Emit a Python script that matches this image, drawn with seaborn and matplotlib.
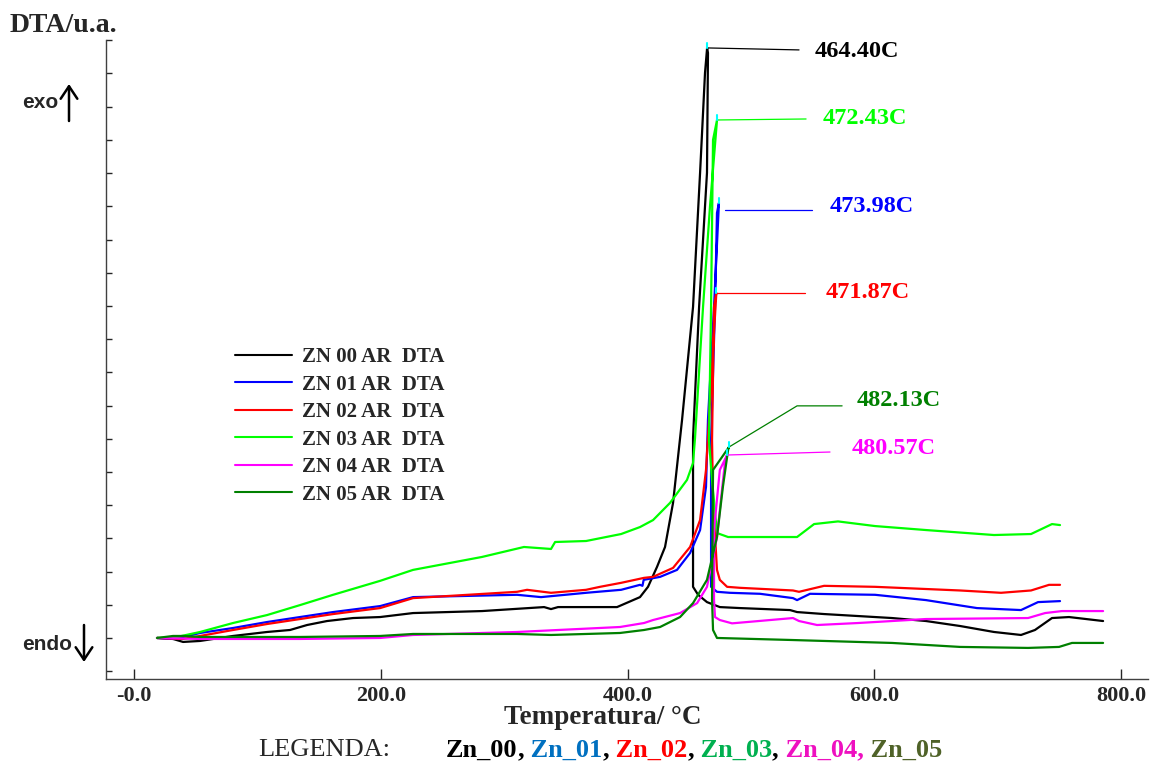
import matplotlib
matplotlib.use("Agg")
import matplotlib.pyplot as plt
from matplotlib.lines import Line2D
from matplotlib.ticker import FixedLocator, MultipleLocator
import pandas as pd
import seaborn as sns

# DTA curves, temperature (°C) vs signal (u.a.)
T00 = [18.6, 31.6, 39.7, 53.5, 80.2, 107.8, 126.4, 140.2, 156.4, 177.5, 199.4, 226.1, 282.0, 332.3, 337.9,
       343.6, 391.4, 410.0, 416.5, 423.8, 430.3, 436.8, 444.1, 453.0, 458.7, 462.7, 464.4, 465.1, 464.3, 457.9,
       453.0, 453.0, 457.1, 464.3, 474.7, 491.1, 531.6, 537.3, 559.2, 614.3, 641.8, 669.4, 696.9, 718.8, 730.1,
       743.9, 757.7, 785.3]
D00 = [0.0, -0.03, -0.12, -0.09, 0.06, 0.18, 0.24, 0.39, 0.51, 0.60, 0.63, 0.75, 0.81, 0.93, 0.87,
       0.93, 0.93, 1.23, 1.54, 2.14, 2.74, 4.07, 6.57, 9.97, 14.01, 17.02, 17.77, 17.62, 14.01, 9.97,
       6.02, 1.54, 1.30, 1.08, 0.93, 0.90, 0.84, 0.78, 0.72, 0.60, 0.51, 0.36, 0.18, 0.09, 0.24,
       0.60, 0.63, 0.51]

T01 = [18.6, 31.6, 39.7, 53.5, 80.2, 107.8, 134.5, 161.3, 199.4, 226.1, 310.4, 329.8, 366.3, 394.7, 410.0,
       412.0, 413.0, 426.3, 440.0, 450.6, 458.7, 463.5, 465.1, 470.0, 473.98, 472.4, 470.8, 467.6, 467.6, 472.4,
       482.8, 507.3, 534.0, 537.3, 547.8, 600.5, 641.8, 683.1, 718.8, 732.6, 750.4]
D01 = [0.0, -0.03, 0.03, 0.15, 0.30, 0.48, 0.63, 0.78, 0.96, 1.23, 1.30, 1.23, 1.36, 1.45, 1.60,
       1.57, 1.75, 1.84, 2.05, 2.56, 3.25, 4.55, 6.57, 9.97, 13.10, 12.80, 9.97, 5.96, 1.54, 1.39,
       1.36, 1.33, 1.20, 1.14, 1.33, 1.30, 1.14, 0.90, 0.84, 1.08, 1.11]

T02 = [18.6, 39.7, 53.5, 80.2, 107.8, 134.5, 161.3, 199.4, 226.1, 310.4, 318.5, 337.9, 366.3, 377.6, 394.7,
       413.3, 420.6, 436.8, 450.6, 458.7, 463.5, 465.9, 471.87, 470.0, 468.4, 469.2, 472.4, 474.7, 480.6, 491.1,
       534.0, 538.9, 559.2, 600.5, 669.4, 702.6, 726.9, 741.5, 750.4]
D02 = [0.0, -0.03, 0.06, 0.24, 0.42, 0.57, 0.72, 0.90, 1.20, 1.39, 1.45, 1.36, 1.45, 1.54, 1.66,
       1.81, 1.84, 2.11, 2.74, 3.55, 5.06, 6.57, 10.39, 9.97, 5.96, 4.16, 2.05, 1.75, 1.54, 1.51,
       1.43, 1.39, 1.57, 1.54, 1.43, 1.36, 1.43, 1.60, 1.60]

T03 = [18.6, 34.8, 53.5, 80.2, 107.8, 134.5, 161.3, 199.4, 226.1, 282.0, 316.0, 337.9, 341.2, 366.3, 394.7,
       410.0, 420.6, 434.4, 448.1, 453.0, 454.6, 461.1, 466.7, 472.43, 469.2, 467.6, 465.9, 468.4, 472.4, 481.4,
       537.3, 551.1, 570.5, 600.5, 641.8, 696.9, 726.9, 743.9, 750.4]
D03 = [0.0, 0.03, 0.18, 0.45, 0.69, 0.99, 1.30, 1.72, 2.05, 2.44, 2.74, 2.68, 2.89, 2.92, 3.13,
       3.34, 3.55, 4.07, 4.76, 5.27, 6.02, 9.97, 12.98, 15.60, 15.00, 9.97, 5.96, 4.76, 3.16, 3.04,
       3.04, 3.43, 3.51, 3.37, 3.25, 3.10, 3.13, 3.43, 3.40]

T04 = [18.6, 53.5, 134.5, 199.4, 226.1, 310.4, 393.8, 413.3, 420.6, 442.5, 456.3, 464.3, 472.4, 478.8, 480.57,
       474.7, 470.0, 470.0, 470.8, 474.7, 484.6, 534.0, 538.9, 553.5, 586.7, 641.8, 724.5, 738.3, 752.0, 785.3]
D04 = [0.0, -0.03, -0.03, 0.0, 0.09, 0.18, 0.33, 0.45, 0.54, 0.75, 1.05, 1.54, 3.04, 5.27, 5.51,
       5.06, 3.25, 1.14, 0.63, 0.54, 0.44, 0.60, 0.51, 0.39, 0.45, 0.57, 0.60, 0.75, 0.81, 0.81]

T05 = [18.6, 31.6, 39.7, 53.5, 134.5, 199.4, 226.1, 310.4, 337.9, 366.3, 393.8, 413.3, 426.3, 442.5, 453.0,
       464.3, 472.4, 477.2, 481.4, 482.13, 469.2, 468.4, 469.2, 472.4, 531.6, 614.3, 669.4, 724.5, 749.6, 760.1,
       785.3]
D05 = [0.0, 0.06, 0.06, 0.03, 0.03, 0.06, 0.12, 0.12, 0.09, 0.12, 0.15, 0.24, 0.33, 0.63, 1.05,
       1.75, 3.04, 4.55, 5.66, 5.75, 5.06, 1.14, 0.24, 0.0, -0.06, -0.15, -0.27, -0.30, -0.27, -0.15,
       -0.15]

names = ["ZN 00 AR  DTA", "ZN 01 AR  DTA", "ZN 02 AR  DTA", "ZN 03 AR  DTA", "ZN 04 AR  DTA", "ZN 05 AR  DTA"]
colors = ["#000000", "#0000FF", "#FF0000", "#00FF00", "#FF00FF", "#008000"]
temps = [T00, T01, T02, T03, T04, T05]
signals = [D00, D01, D02, D03, D04, D05]

# peak temperatures / labels
peak_T = [464.40, 473.98, 471.87, 472.43, 480.57, 482.13]
peak_labels = ["464.40C", "473.98C", "471.87C", "472.43C", "480.57C", "482.13C"]
# leader line paths (from peak) and label anchors
leaders = [
    ([464.4, 538.9], [17.77, 17.71]),
    ([478.9, 549.4], [12.89, 12.89]),
    ([471.87, 543.8], [10.39, 10.39]),
    ([472.43, 544.6], [15.60, 15.63]),
    ([480.57, 564.0], [5.51, 5.60]),
    ([482.13, 537.3, 573.8], [5.75, 6.99, 6.99]),
]
label_pos = [(551.9, 17.65), (564.0, 12.98), (560.8, 10.39), (558.3, 15.63), (581.8, 5.72), (585.9, 7.14)]

legend_words = ["Zn_00", ",", " Zn_01", ",", " Zn_02", ",", " Zn_03", ",", " Zn_04,", " Zn_05"]
legend_colors = ["black", "black", "#0070C0", "black", "#FF0000", "black", "#00B050", "black", "#EE10C0", "#4F6228"]

sns.set_style("white")
plt.rcParams['font.family'] = ['Liberation Serif', 'DejaVu Serif']

frames = []
for name, t, d in zip(names, temps, signals):
    frames.append(pd.DataFrame({"T": t, "DTA": d, "serie": name}))
df = pd.concat(frames, ignore_index=True)

fig = plt.figure(figsize=(11.54, 7.64), dpi=100)
ax = fig.add_axes([0.0919, 0.1113, 0.9029, 0.8364])

sns.lineplot(data=df, x="T", y="DTA", hue="serie", palette=dict(zip(names, colors)),
             sort=False, estimator=None, legend=False, lw=1.6, ax=ax)

# leaders, cyan peak tips and labels
for (lx, ly), (tx, ty), lab, c, pt, d in zip(leaders, label_pos, peak_labels, colors, peak_T, signals):
    ax.plot(lx, ly, color=c, lw=0.9)
    top = max(d)
    ax.plot([pt, pt], [top, top + 0.15], color="cyan", lw=1.5)
    ax.text(tx, ty, lab, color=c, fontsize=17.5, fontweight="bold", va="center", ha="left")

ax.set_xlim(-22.7, 821.7)
ax.set_ylim(-1.235, 18.01)
ax.xaxis.set_major_locator(FixedLocator([0, 200, 400, 600, 800]))
ax.xaxis.set_minor_locator(MultipleLocator(50))
ax.set_xticklabels(["-0.0", "200.0", "400.0", "600.0", "800.0"], fontweight="bold")
ax.yaxis.set_major_locator(MultipleLocator(1))
ax.tick_params(axis="x", which="major", direction="in", length=7, width=1, labelsize=16, pad=5)
ax.tick_params(axis="x", which="minor", direction="in", length=4, width=1)
ax.tick_params(axis="y", which="major", direction="in", length=4, width=1, labelleft=False)
ax.tick_params(bottom=True, left=True)
ax.set_xlabel("")
ax.set_ylabel("")
for s in ["top", "right"]:
    ax.spines[s].set_visible(False)
for s in ["left", "bottom"]:
    ax.spines[s].set_color("#404040")
    ax.spines[s].set_linewidth(1.0)

handles = [Line2D([], [], color=c, lw=1.5) for c in colors]
ax.legend(handles, names, loc="upper left", bbox_to_anchor=(235 / 1154, 1 - 347 / 764),
          bbox_transform=fig.transFigure, frameon=False,
          prop={"family": "Liberation Serif", "weight": "bold", "size": 15},
          handlelength=2.75, handletextpad=0.45, labelspacing=0.36, borderpad=0, borderaxespad=0)

fig.text(10 / 1154, 1 - 25 / 764, "DTA/u.a.", fontsize=20, fontweight="bold", va="center", ha="left")
fig.text(22 / 1154, 1 - 103 / 764, "exo", family="Liberation Sans", fontweight="bold", fontsize=15, va="center")
fig.text(22 / 1154, 1 - 645 / 764, "endo", family="Liberation Sans", fontweight="bold", fontsize=15, va="center")
arrow = dict(arrowstyle="->,head_length=0.45,head_width=0.3", lw=1.8, color="black", mutation_scale=20,
             shrinkA=0, shrinkB=0)
ax.annotate("", xy=(69 / 1154, 1 - 84 / 764), xytext=(69 / 1154, 1 - 121 / 764),
            xycoords="figure fraction", textcoords="figure fraction", arrowprops=arrow, annotation_clip=False)
ax.annotate("", xy=(84 / 1154, 1 - 662 / 764), xytext=(84 / 1154, 1 - 625 / 764),
            xycoords="figure fraction", textcoords="figure fraction", arrowprops=arrow, annotation_clip=False)

fig.text(603 / 1154, 1 - 718 / 764, "Temperatura/ °C", fontsize=19.5, fontweight="bold", ha="center", va="center")
fig.text(258 / 1154, 1 - 750 / 764, "LEGENDA:", fontsize=19, va="center", ha="left")
prev = fig.text(446 / 1154, 1 - 750 / 764, legend_words[0], fontsize=19, fontweight="bold",
                color=legend_colors[0], va="center", ha="left")
for w, c in zip(legend_words[1:], legend_colors[1:]):
    prev = ax.annotate(w, xy=(1, 0), xycoords=prev, va="bottom", ha="left", fontsize=19,
                       fontweight="bold", color=c, annotation_clip=False)

fig.savefig("out.png", dpi=100)
